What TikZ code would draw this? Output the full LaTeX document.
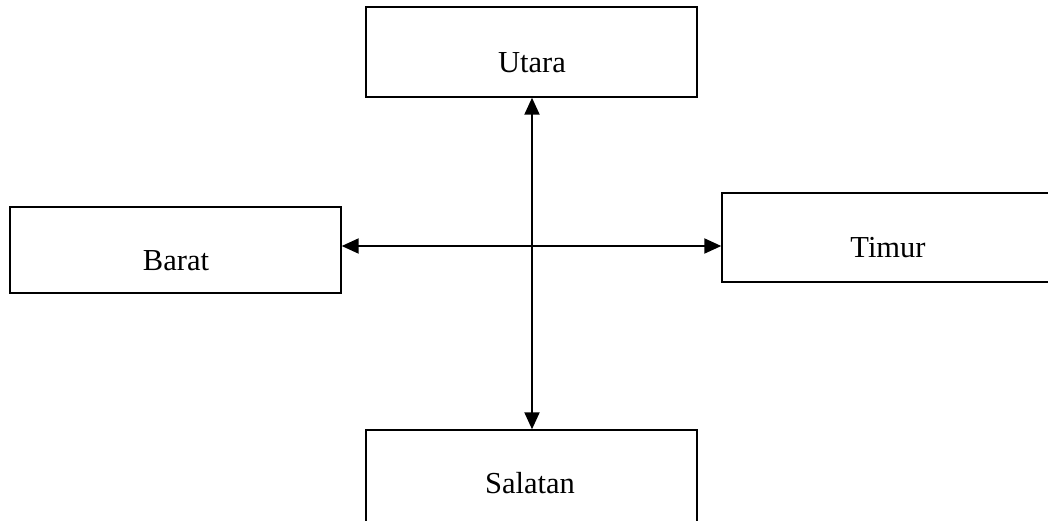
\documentclass[tikz,border=0pt]{standalone}
\usepackage{fontspec}
\setmainfont{Liberation Serif}
\usetikzlibrary{arrows.meta}
\begin{document}
\begin{tikzpicture}[x=1pt,y=-1pt,
  box/.style={draw=black,line width=2pt,fill=white},
  lbl/.style={font=\fontsize{30.5}{34}\selectfont,inner sep=0pt,anchor=base},
  conn/.style={line width=2pt,{Triangle[length=17pt,width=15pt]}-{Triangle[length=17pt,width=15pt]}}]
\useasboundingbox (0,0) rectangle (1048,520);
\clip (0,0) rectangle (1048,520);
\draw[box] (366,7) rectangle (697,97);
\node[inner sep=0pt] (u) at (532,97) {};
\draw[box] (10,207) rectangle (341,293);
\node[inner sep=0pt] (b) at (341,246) {};
\draw[box] (722,193) rectangle (1060,282);
\node[inner sep=0pt] (t) at (722,246) {};
\draw[box] (366,430) rectangle (697,530);
\node[inner sep=0pt] (s) at (532,430) {};
\node[lbl] (ut) at (532,72) {Utara};
\node[lbl] (bt) at (176,270) {Barat};
\node[lbl] (tt) at (888,257) {Timur};
\node[lbl] (st) at (530,493) {Salatan};
\draw[conn] (u) -- (s);
\draw[conn] (b) -- (t);
\end{tikzpicture}
\end{document}
